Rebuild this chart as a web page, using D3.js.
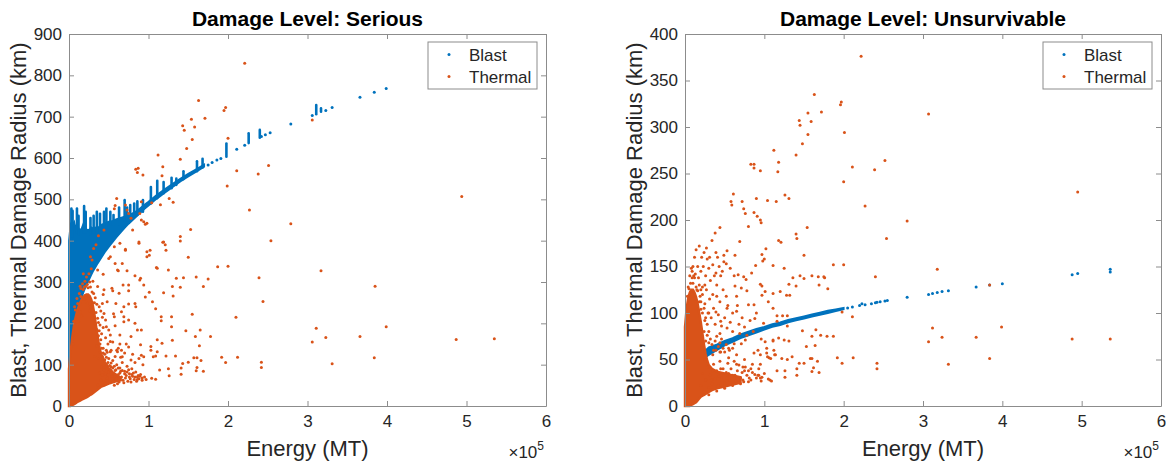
<!DOCTYPE html>
<html>
<head>
<meta charset="utf-8">
<script src="https://cdn.jsdelivr.net/npm/d3@7"></script>
<style>
  body { margin: 0; background: #fff; }
  svg text { font-family: "Liberation Sans", Arial, Helvetica, sans-serif; fill: #262626; }
</style>
</head>
<body>
<svg id="chart" width="1166" height="466"></svg>
<script>
// energies are in units of 10^5 MT, radii in km
const energyTicks = [0, 1, 2, 3, 4, 5, 6];
const seriousTicks = [0, 100, 200, 300, 400, 500, 600, 700, 800, 900];
const unsurvTicks = [0, 50, 100, 150, 200, 250, 300, 350, 400];
const seriesNames = ["Blast", "Thermal"];

// ---- Damage level: Serious ----
// dense blast region: [energy, lowest radius, highest radius]
const seriousBlastBand = [
  [0.0, 60, 400], [0.01, 105, 420], [0.02, 132, 440], [0.035, 159, 445], [0.05, 179, 440],
  [0.065, 195, 445], [0.08, 209, 430], [0.1, 225, 440], [0.12, 239, 430], [0.14, 252, 425],
  [0.16, 263, 430], [0.18, 274, 440], [0.2, 284, 432], [0.22, 293, 428], [0.24, 301, 425],
  [0.26, 309, 428], [0.28, 317, 432], [0.3, 325, 430], [0.33, 335, 432], [0.36, 345, 430],
  [0.4, 357, 438], [0.45, 372, 442], [0.5, 385, 446], [0.55, 397, 448], [0.6, 409, 452],
  [0.65, 420, 455], [0.7, 431, 458], [0.75, 441, 462], [0.8, 450, 466], [0.85, 459, 472],
  [0.9, 468, 479], [0.95, 477, 487], [1.0, 485, 494], [1.1, 501, 510], [1.2, 515, 524],
  [1.3, 529, 537], [1.4, 543, 550], [1.5, 555, 562], [1.6, 567, 573], [1.7, 579, 584]
];
const seriousBlastStreaks = [
  [0.03, 400, 478], [0.045, 410, 472], [0.1, 420, 478], [0.12, 415, 460], [0.19, 420, 484],
  [0.21, 420, 470], [0.27, 415, 455], [0.31, 420, 460], [0.35, 420, 470], [0.39, 420, 465],
  [0.44, 430, 470], [0.47, 430, 478], [0.52, 440, 470], [0.56, 440, 462], [0.63, 440, 480],
  [0.7, 450, 498], [0.73, 450, 480], [0.77, 455, 486], [0.82, 460, 490], [0.86, 462, 495],
  [0.93, 470, 498], [1.03, 490, 530], [1.11, 503, 545], [1.19, 515, 542], [1.29, 527, 552],
  [1.35, 535, 550], [1.44, 549, 568], [1.61, 568, 592], [1.68, 577, 598], [1.98, 603, 635],
  [2.26, 636, 660], [2.4, 649, 668], [3.11, 706, 728], [3.17, 712, 720]
];
const seriousBlastPoints = [
  [1.75, 583], [1.8, 589], [1.86, 595], [1.91, 599], [2.11, 621], [2.21, 631], [2.42, 652],
  [2.47, 656], [2.53, 661], [2.79, 682], [3.06, 703], [3.23, 715], [3.31, 722], [3.66, 747],
  [3.84, 759], [3.99, 768]
];
// dense thermal region: [energy, lowest radius, highest radius]
const seriousThermalBlob = [
  [0.0, 0, 90], [0.01, 0, 110], [0.02, 0, 132], [0.04, 2, 165], [0.06, 4, 192], [0.08, 6, 212],
  [0.1, 9, 228], [0.12, 11, 240], [0.14, 13, 250], [0.16, 15, 258], [0.18, 17, 264],
  [0.2, 19, 268], [0.22, 21, 270], [0.24, 23, 270], [0.26, 26, 266], [0.28, 28, 258],
  [0.3, 31, 244], [0.32, 34, 222], [0.34, 37, 195], [0.36, 40, 168], [0.38, 43, 145],
  [0.4, 46, 128], [0.45, 50, 106], [0.5, 54, 92], [0.55, 57, 82], [0.6, 60, 75], [0.65, 62, 68]
];
const seriousThermalPoints = [
  [2.21, 829], [1.63, 739], [1.97, 722], [1.95, 715], [1.54, 694], [1.71, 696], [1.43, 678],
  [1.58, 675], [1.45, 667], [1.55, 645], [2.0, 648], [1.48, 623], [1.12, 607], [1.4, 597],
  [1.18, 579], [1.17, 557], [2.11, 569], [2.51, 582], [2.38, 561], [1.99, 532], [1.26, 502],
  [1.31, 493], [1.15, 487], [2.27, 474], [2.79, 441], [1.53, 427], [1.4, 410], [1.4, 399],
  [1.18, 396], [1.21, 390], [2.54, 400], [3.06, 692], [4.94, 507], [3.17, 327], [3.85, 290],
  [3.11, 188], [3.99, 192], [3.06, 155], [3.23, 166], [3.66, 168], [4.87, 161], [5.35, 163],
  [3.31, 102], [3.84, 117], [0.84, 573], [0.86, 565], [0.87, 575], [0.93, 559], [0.6, 502],
  [0.58, 485], [0.57, 477], [0.71, 486], [0.73, 474], [0.75, 466], [0.78, 454], [0.89, 466],
  [0.91, 450], [0.96, 440], [1.04, 492], [0.8, 426], [0.44, 426], [0.98, 442], [0.37, 412],
  [0.64, 394], [0.88, 394], [0.71, 377], [0.98, 373], [1.01, 365], [0.98, 361], [0.52, 361],
  [0.58, 345], [1.5, 360], [1.1, 335], [1.25, 329], [0.62, 327], [0.73, 327], [0.43, 319],
  [0.83, 315], [0.89, 305], [1.35, 309], [1.44, 310], [1.6, 312], [1.75, 307], [1.87, 337],
  [2.0, 338], [2.39, 310], [0.68, 293], [1.3, 289], [1.4, 287], [1.69, 289], [0.55, 279],
  [0.75, 279], [1.01, 275], [1.19, 274], [0.96, 264], [1.31, 266], [0.43, 270], [0.48, 252],
  [0.59, 248], [0.75, 247], [0.83, 248], [1.05, 252], [1.09, 235], [2.44, 253], [0.66, 228],
  [0.69, 216], [0.56, 223], [1.16, 216], [1.29, 216], [1.55, 222], [2.1, 215], [0.46, 208],
  [0.75, 208], [1.16, 206], [0.83, 200], [0.47, 192], [0.58, 194], [1.29, 192], [0.86, 184],
  [0.91, 184], [1.47, 182], [1.65, 184], [0.52, 172], [0.64, 172], [1.11, 160], [1.3, 159],
  [1.59, 168], [1.78, 168], [1.64, 146], [0.52, 156], [0.64, 150], [0.47, 135], [0.6, 135],
  [0.66, 135], [1.03, 144], [0.91, 123], [0.94, 119], [1.06, 119], [1.09, 121], [1.22, 121],
  [1.34, 121], [1.57, 117], [1.61, 117], [1.5, 106], [1.43, 103], [1.66, 110], [1.61, 93],
  [1.6, 85], [1.69, 84], [1.41, 92], [1.41, 77], [1.92, 118], [2.12, 118], [1.97, 105],
  [2.42, 106], [2.42, 93], [1.14, 87], [1.25, 90], [1.26, 73], [1.04, 67], [1.09, 65],
  [0.34, 390], [0.31, 381], [0.27, 361], [0.29, 353], [0.57, 385], [0.5, 357], [0.36, 329],
  [0.61, 329], [0.36, 289], [0.44, 281], [0.54, 285], [0.63, 273], [0.75, 293], [0.42, 248],
  [0.69, 240], [0.84, 240], [0.44, 224], [0.57, 216], [0.69, 204], [0.5, 184], [0.78, 168],
  [0.75, 143], [0.9, 148], [1.03, 135], [1.11, 131], [0.52, 131], [0.61, 131], [1.17, 152],
  [0.67, 119], [0.78, 111], [0.88, 397], [1.19, 397], [1.22, 377], [1.02, 377], [0.71, 379],
  [0.67, 345], [0.91, 494], [0.94, 446], [1.11, 333], [0.9, 309], [0.94, 293],
  // speckle around the dense region
  [0.05, 150], [0.06, 205], [0.08, 232], [0.09, 172], [0.11, 248], [0.12, 205], [0.13, 272],
  [0.14, 228], [0.15, 284], [0.16, 218], [0.17, 296], [0.18, 282], [0.19, 288], [0.2, 302],
  [0.21, 290], [0.22, 312], [0.23, 294], [0.24, 286], [0.25, 320], [0.26, 300], [0.27, 288],
  [0.28, 332], [0.29, 276], [0.3, 302], [0.31, 272], [0.32, 250], [0.33, 262], [0.34, 226],
  [0.35, 246], [0.36, 212], [0.37, 202], [0.38, 182], [0.39, 196], [0.33, 120], [0.35, 145],
  [0.37, 115], [0.39, 130], [0.4, 160], [0.42, 120], [0.43, 140], [0.45, 125], [0.46, 165],
  [0.48, 130], [0.49, 150], [0.5, 115], [0.53, 135], [0.55, 155], [0.58, 120], [0.62, 140],
  [0.65, 118], [0.7, 128], [0.72, 150], [0.8, 125], [0.83, 105], [0.88, 115], [0.93, 100],
  [0.07, 240], [0.1, 260], [0.14, 290], [0.18, 320], [0.22, 262], [0.26, 230], [0.3, 250],
  [0.33, 200], [0.35, 185], [0.37, 170], [0.39, 150], [0.41, 140], [0.43, 128], [0.45, 112],
  [0.47, 118], [0.49, 105], [0.51, 98], [0.53, 104], [0.55, 92], [0.57, 96], [0.59, 88],
  [0.62, 92], [0.64, 80], [0.67, 86], [0.7, 78], [0.73, 82], [0.76, 70], [0.79, 76], [0.83, 70],
  [0.86, 64], [0.89, 72], [0.92, 62], [0.15, 265], [0.19, 258], [0.23, 250], [0.27, 240],
  [0.31, 225], [0.41, 175], [0.43, 190], [0.42, 215], [0.4, 230], [0.38, 240],
  // low-radius band
  [0.4, 62], [0.42, 75], [0.44, 88], [0.45, 55], [0.47, 100], [0.48, 68], [0.5, 82], [0.51, 58],
  [0.53, 95], [0.54, 72], [0.55, 110], [0.56, 60], [0.58, 86], [0.59, 66], [0.6, 100], [0.62, 76],
  [0.63, 58], [0.64, 92], [0.66, 70], [0.67, 105], [0.68, 62], [0.7, 84], [0.71, 68], [0.73, 96],
  [0.74, 60], [0.76, 78], [0.77, 66], [0.79, 90], [0.8, 72], [0.82, 64], [0.84, 82], [0.86, 70],
  [0.88, 66], [0.9, 76], [0.92, 68], [0.36, 50], [0.38, 80], [0.41, 95], [0.43, 50], [0.46, 78],
  [0.52, 88], [0.57, 50], [0.61, 54], [0.65, 84], [0.69, 56], [0.72, 74], [0.75, 88], [0.78, 58],
  [0.81, 80], [0.85, 60], [0.87, 74], [0.95, 70], [0.97, 64]
];

// ---- Damage level: Unsurvivable ----
const unsurvBlastBand = [
  [0.1, 38, 41], [0.15, 43, 48], [0.2, 48, 55], [0.3, 55, 63], [0.4, 60, 66], [0.5, 65, 70],
  [0.6, 69, 73], [0.7, 73, 77], [0.8, 76, 80], [0.9, 79, 83], [1.0, 82, 85], [1.1, 85, 88],
  [1.2, 87, 90], [1.3, 90, 92.5], [1.4, 92, 94.5], [1.5, 94, 96.5], [1.6, 96, 98.5], [1.7, 98, 100.5],
  [1.8, 100, 102.5], [1.9, 102, 104], [2.0, 104, 105.5]
];
const unsurvBlastPoints = [
  [2.05, 105.5], [2.11, 106.5], [2.2, 108], [2.23, 110], [2.27, 109], [2.35, 110], [2.4, 111],
  [2.42, 111.5], [2.46, 112], [2.52, 113], [2.55, 113.5], [2.8, 117], [3.07, 120], [3.12, 121],
  [3.18, 122], [3.24, 123], [3.32, 124], [3.67, 128], [3.84, 130], [4.0, 131.5], [4.88, 141],
  [4.95, 142.5], [5.36, 144], [5.36, 147]
];
const unsurvThermalBlob = [
  [0.0, 0, 85], [0.02, 0, 105], [0.04, 0, 116], [0.06, 0, 122], [0.08, 1, 125], [0.1, 2, 125],
  [0.12, 3, 122], [0.14, 4, 117], [0.16, 6, 110], [0.18, 8, 100], [0.2, 10, 90], [0.22, 11, 78],
  [0.24, 12, 66], [0.26, 13, 56], [0.28, 14, 49], [0.3, 15, 44], [0.34, 17, 40], [0.4, 19, 37],
  [0.5, 21, 35], [0.6, 23, 33], [0.7, 25, 31]
];
const unsurvThermalPoints = [
  [2.22, 376], [1.63, 335], [1.97, 327], [1.96, 324], [1.72, 316], [1.55, 315], [1.44, 307],
  [1.45, 302], [1.59, 306], [1.55, 292], [2.01, 294], [1.48, 282], [1.12, 275], [1.4, 270],
  [1.18, 262], [1.17, 252], [0.95, 253], [2.11, 257], [2.39, 254], [2.52, 264], [2.0, 241],
  [1.26, 227], [1.31, 223], [1.04, 221], [1.15, 220], [2.27, 215], [0.95, 200], [0.96, 197],
  [1.54, 192], [2.8, 199], [1.4, 185], [1.41, 180], [1.18, 178], [1.21, 176], [2.54, 180],
  [1.02, 169], [1.5, 162], [0.97, 163], [1.0, 158], [0.98, 156], [1.11, 151], [1.25, 148],
  [1.87, 152], [2.0, 152], [1.36, 138], [1.45, 140], [1.6, 140], [1.76, 138], [2.4, 139],
  [0.95, 131], [1.31, 131], [1.4, 129], [1.69, 130], [1.01, 123], [0.97, 119], [1.2, 123],
  [1.32, 119], [1.05, 112], [1.11, 105], [1.16, 97], [1.29, 97], [1.16, 91], [1.29, 86],
  [2.11, 96], [0.96, 72], [1.48, 81], [1.65, 82], [1.6, 75], [1.79, 75], [1.11, 70], [1.31, 70],
  [1.64, 65], [1.03, 62], [1.12, 60], [0.95, 55], [1.13, 55], [1.06, 52], [1.08, 51], [1.22, 51],
  [1.29, 50], [1.35, 53], [1.58, 51], [1.6, 51], [1.67, 48], [1.92, 52], [2.12, 52], [1.44, 46],
  [1.5, 46], [1.98, 46], [2.42, 46], [2.42, 40], [1.41, 40], [1.62, 41], [1.16, 38], [1.26, 38],
  [1.6, 37], [1.69, 36], [1.41, 33], [0.97, 31], [1.05, 29], [1.09, 27], [1.26, 31],
  [3.07, 314], [3.18, 147], [3.84, 130], [3.12, 84], [3.24, 74], [3.67, 74], [3.99, 85],
  [3.07, 69], [3.84, 51], [3.32, 45], [4.95, 230], [4.88, 72], [5.36, 72], [1.87, 75], [1.98, 101],
  [0.83, 260], [0.87, 260], [0.87, 256], [0.61, 228], [0.58, 220], [0.59, 216], [0.9, 223],
  [0.72, 220], [0.74, 212], [0.76, 207], [0.87, 208], [0.91, 204], [0.8, 193], [0.44, 192],
  [0.38, 186], [0.69, 177], [0.63, 162], [0.53, 167], [0.49, 162], [0.41, 160], [0.49, 155],
  [0.52, 153], [0.84, 143], [0.74, 139], [0.77, 136], [0.62, 140], [0.67, 141], [0.45, 140],
  [0.57, 148], [0.39, 143], [0.89, 151], [0.63, 129], [0.71, 127], [0.78, 124], [0.97, 129],
  [0.65, 118], [0.52, 118], [0.4, 118], [0.8, 109], [0.87, 109], [0.66, 108], [0.53, 105],
  [0.39, 101], [0.6, 100], [0.45, 91], [0.53, 84], [0.44, 78], [0.69, 78], [0.78, 76], [0.76, 71],
  [0.62, 67], [0.71, 67], [0.55, 62], [0.39, 60], [0.44, 58], [0.92, 60], [0.87, 57], [1.03, 57],
  [1.14, 55], [1.04, 53], [0.92, 33], [0.95, 30], [0.81, 30], [0.73, 28], [1.07, 28], [0.99, 89],
  [0.88, 94], [1.25, 71], [1.18, 73], [1.11, 71], [1.01, 69], [1.8, 126], [1.68, 139], [1.75, 139],
  [1.5, 137], [1.11, 121], [1.28, 119], [1.53, 64], [1.71, 76], [1.23, 97],
  // speckle around the dense region
  [0.04, 128], [0.06, 140], [0.07, 132], [0.08, 148], [0.09, 138], [0.1, 150], [0.11, 140],
  [0.12, 160], [0.13, 142], [0.14, 168], [0.15, 125], [0.16, 150], [0.17, 138], [0.18, 172],
  [0.19, 118], [0.2, 145], [0.21, 160], [0.22, 128], [0.23, 150], [0.24, 165], [0.25, 110],
  [0.26, 140], [0.27, 125], [0.28, 158], [0.29, 100], [0.3, 148], [0.31, 115], [0.32, 135],
  [0.33, 95], [0.34, 178], [0.35, 120], [0.36, 105], [0.37, 140], [0.38, 88], [0.4, 130],
  [0.42, 98], [0.44, 112], [0.46, 86], [0.48, 125], [0.5, 95], [0.54, 108], [0.57, 90], [0.6, 80],
  [0.65, 102], [0.68, 88], [0.72, 95], [0.75, 85], [0.82, 92], [0.86, 80], [0.9, 100],
  [0.03, 118], [0.05, 126], [0.1, 132], [0.14, 128], [0.18, 112], [0.22, 100], [0.25, 92],
  [0.28, 76], [0.3, 68], [0.24, 80], [0.26, 70], [0.2, 104],
  [0.16, 124], [0.18, 130], [0.2, 112], [0.22, 120], [0.24, 105], [0.26, 95], [0.28, 88],
  [0.3, 80], [0.32, 72], [0.34, 66], [0.36, 60], [0.38, 70], [0.4, 75], [0.42, 64], [0.44, 68],
  [0.46, 72], [0.48, 62], [0.5, 58], [0.52, 66], [0.56, 60], [0.6, 62], [0.12, 138], [0.09, 145],
  [0.27, 170], [0.31, 160], [0.35, 152], [0.39, 165], [0.43, 150], [0.47, 145], [0.3, 100],
  [0.25, 130], [0.2, 125],
  // low-radius band
  [0.2, 22], [0.22, 35], [0.24, 15], [0.26, 28], [0.28, 42], [0.3, 20], [0.32, 33], [0.34, 24],
  [0.36, 45], [0.38, 29], [0.4, 38], [0.42, 22], [0.44, 48], [0.46, 30], [0.48, 40], [0.5, 25],
  [0.52, 36], [0.54, 46], [0.56, 28], [0.58, 40], [0.6, 33], [0.62, 48], [0.64, 27], [0.66, 38],
  [0.68, 44], [0.7, 30], [0.72, 36], [0.74, 26], [0.76, 42], [0.78, 33], [0.8, 38], [0.83, 28],
  [0.85, 45], [0.88, 34], [0.9, 30], [0.93, 40], [0.96, 27], [1.0, 35], [0.25, 50], [0.35, 55],
  [0.45, 58], [0.55, 52], [0.65, 55], [0.75, 50], [0.3, 12], [0.4, 16], [0.5, 19], [0.6, 22],
  [0.7, 24], [0.8, 26], [0.35, 38], [0.45, 40], [0.55, 35], [0.65, 45], [0.75, 38], [0.85, 36],
  [0.95, 45], [0.33, 28], [0.43, 32], [0.53, 30], [0.63, 33], [0.73, 42], [0.83, 40], [0.93, 33]
];

const blue = "#0072BD", orange = "#D95319";
const svg = d3.select("#chart");

function drawPanel(opt) {
  const width = opt.right - opt.left, height = 372;
  const g = svg.append("g").attr("transform", "translate(" + opt.left + ",34)");

  const x = d3.scaleLinear().domain([0, 6]).range([0, width]);
  const y = d3.scaleLinear().domain([0, opt.yMax]).range([height, 0]);

  // blast
  const band = d3.area().x(d => x(d[0])).y0(d => y(d[1])).y1(d => y(d[2]));
  g.append("path").datum(opt.blastBand)
    .attr("d", band).attr("fill", blue).attr("stroke", blue).attr("stroke-width", 1.8);
  if (opt.blastStreaks) {
    g.append("g").selectAll("line").data(opt.blastStreaks).join("line")
      .attr("x1", d => x(d[0])).attr("x2", d => x(d[0]))
      .attr("y1", d => y(d[1])).attr("y2", d => y(d[2]))
      .attr("stroke", blue).attr("stroke-width", 2.6).attr("stroke-linecap", "round");
  }
  g.append("g").selectAll("circle").data(opt.blastPoints).join("circle")
    .attr("cx", d => x(d[0])).attr("cy", d => y(d[1])).attr("r", 1.5).attr("fill", blue);

  // thermal
  g.append("path").datum(opt.thermalBlob)
    .attr("d", band).attr("fill", orange).attr("stroke", orange).attr("stroke-width", 2.4);
  g.append("g").selectAll("circle").data(opt.thermalPoints).join("circle")
    .attr("cx", d => x(d[0])).attr("cy", d => y(d[1])).attr("r", 1.5).attr("fill", orange);

  // axes with inward ticks on all four sides
  const axisColor = "#8c8c8c";
  const xAxis = g.append("g").attr("transform", "translate(0," + height + ")")
    .call(d3.axisBottom(x).tickValues(energyTicks).tickFormat(d3.format("d"))
      .tickSize(-5).tickPadding(9).tickSizeOuter(0));
  const yAxis = g.append("g")
    .call(d3.axisLeft(y).tickValues(opt.yTicks).tickSize(-5).tickPadding(7).tickSizeOuter(0));
  const xTop = g.append("g")
    .call(d3.axisTop(x).tickValues(energyTicks).tickSize(-5).tickFormat("").tickSizeOuter(0));
  const yRight = g.append("g").attr("transform", "translate(" + width + ",0)")
    .call(d3.axisRight(y).tickValues(opt.yTicks).tickSize(-5).tickFormat("").tickSizeOuter(0));
  [xAxis, yAxis, xTop, yRight].forEach(a => {
    a.selectAll("path, line").attr("stroke", axisColor);
    a.selectAll("text").style("font-size", "17px").attr("fill", "#262626");
  });

  g.append("text").attr("x", width / 2).attr("y", -8).attr("text-anchor", "middle")
    .style("font-size", "21px").style("font-weight", "bold").style("fill", "#000")
    .text(opt.title);
  g.append("text").attr("x", width / 2).attr("y", height + 50).attr("text-anchor", "middle")
    .style("font-size", "22px").text("Energy (MT)");
  g.append("text").attr("transform", "translate(" + (-43) + "," + (height / 2) + ") rotate(-90)")
    .attr("text-anchor", "middle").style("font-size", "22px")
    .text("Blast, Thermal Damage Radius (km)");
  const mult = g.append("text").attr("x", width - 2).attr("y", height + 52)
    .attr("text-anchor", "end").style("font-size", "17px");
  mult.append("tspan").text("\u00d710");
  mult.append("tspan").attr("dy", -8).style("font-size", "12px").text("5");

  // legend
  const lg = g.append("g").attr("transform", "translate(" + (width - 118) + ",8)");
  lg.append("rect").attr("width", 109).attr("height", 47)
    .attr("fill", "#fff").attr("stroke", "#8c8c8c");
  seriesNames.forEach((name, i) => {
    lg.append("circle").attr("cx", 21).attr("cy", 12.5 + i * 22).attr("r", 1.5)
      .attr("fill", i === 0 ? blue : orange);
    lg.append("text").attr("x", 41).attr("y", 19 + i * 22).style("font-size", "17px").text(name);
  });
}

drawPanel({
  left: 69, right: 546, yMax: 900, yTicks: seriousTicks, title: "Damage Level: Serious",
  blastBand: seriousBlastBand, blastStreaks: seriousBlastStreaks, blastPoints: seriousBlastPoints,
  thermalBlob: seriousThermalBlob, thermalPoints: seriousThermalPoints
});
drawPanel({
  left: 685, right: 1161, yMax: 400, yTicks: unsurvTicks, title: "Damage Level: Unsurvivable",
  blastBand: unsurvBlastBand, blastStreaks: null, blastPoints: unsurvBlastPoints,
  thermalBlob: unsurvThermalBlob, thermalPoints: unsurvThermalPoints
});
</script>
</body>
</html>
